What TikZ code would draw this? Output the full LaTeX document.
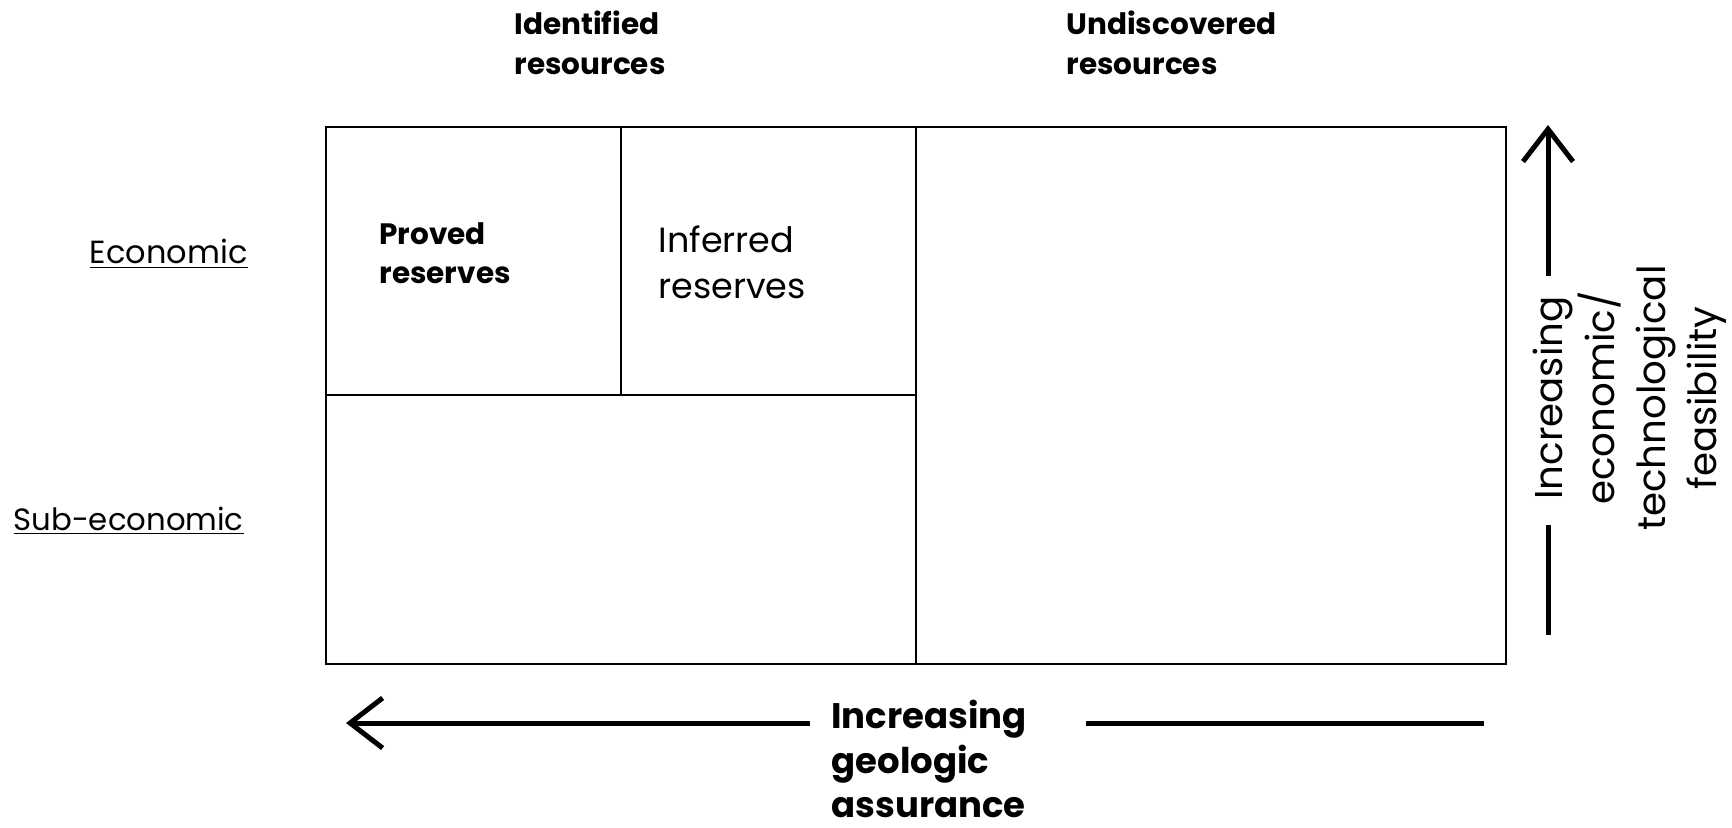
\documentclass[tikz,border=0pt]{standalone}
\usepackage{fontspec}
\setmainfont{Poppins}
\usetikzlibrary{arrows.meta, positioning}

\begin{document}
\begin{tikzpicture}[x=0.4pt, y=-0.4pt,
	caja/.style={draw, line width=0.8pt},
	eje/.style={line width=2pt},
	flecha/.style={eje, -{Straight Barb[length=13pt, width=20pt, line width=2pt]}},
	rotulo/.style={inner sep=0pt, align=left, anchor=west}]
	\useasboundingbox (0,0) rectangle (1732,827);

	\draw[caja] (326,127) rectangle (1506,664);
	\draw[caja] (621,127) -- (621,395);
	\draw[caja] (916,127) -- (916,664);
	\draw[caja] (326,395) -- (916,395);

	\foreach \x/\y/\t [count=\i] in {
		514/43/{Identified\\resources},
		1066/43/{Undiscovered\\resources}}{
		\node[rotulo, font=\bfseries\fontsize{11.8}{16}\selectfont] (rec\i) at (\x,\y) {\t};
	}
	\node[rotulo, font=\bfseries\fontsize{11.8}{15.5}\selectfont] (proved) at (379,253) {Proved\\reserves};
	\node[rotulo, font=\fontsize{14}{18.4}\selectfont] (inferred) at (658,262) {Inferred\\reserves};

	\node[inner sep=0pt, anchor=east, font=\fontsize{12.8}{16}\selectfont] (econ) at (248,254) {\underline{Economic}};
	\node[rotulo, font=\fontsize{12.3}{16}\selectfont] (subecon) at (13,521) {\underline{Sub-economic}};

	\node[inner sep=0pt, align=center, rotate=90, font=\fontsize{15.5}{20.5}\selectfont] (feas) at (1630,398)
		{Increasing\\economic/\\technological\\feasibility};
	\coordinate (fBot) at (1548,635);
	\coordinate (fLow) at (1548,525);
	\coordinate (fHigh) at (1548,276);
	\coordinate (fTip) at (1548,125);
	\draw[eje] (fBot) -- (fLow);
	\draw[flecha] (fHigh) -- (fTip);

	\node[rotulo, font=\bfseries\fontsize{14.2}{17.8}\selectfont] (geo) at (831,759) {Increasing\\geologic\\assurance};
	\coordinate (gL) at (810,723);
	\coordinate (gTip) at (346,723);
	\coordinate (gR) at (1086,723);
	\coordinate (gEnd) at (1484,723);
	\draw[flecha] (gL) -- (gTip);
	\draw[eje] (gR) -- (gEnd);
\end{tikzpicture}
\end{document}
